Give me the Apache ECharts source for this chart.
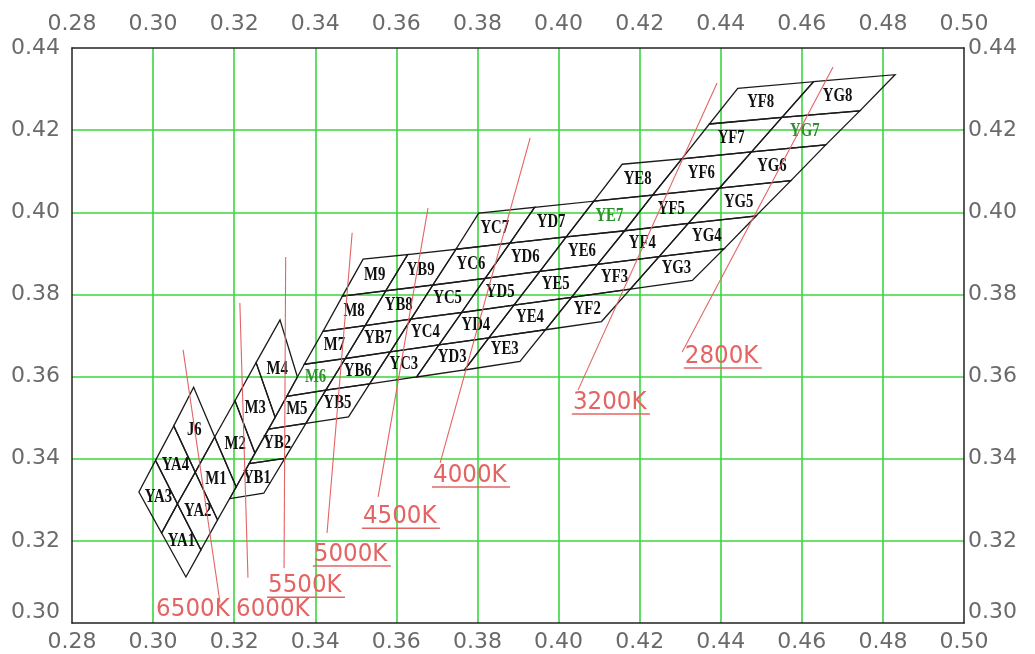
<!DOCTYPE html>
<html>
<head>
<meta charset="utf-8">
<style>
  html, body { margin: 0; padding: 0; background: #fff; }
  #chart { width: 1035px; height: 654px; }
</style>
<script src="https://cdn.jsdelivr.net/npm/echarts@6/dist/echarts.min.js"></script>
</head>
<body>
<div id="chart"></div>
<script>
// axis range (CIE 1931 x / y)
const xRange = [0.28, 0.50]
const yRange = [0.30, 0.44]
const tickStep = 0.02

// bin boundary lines, nodes listed bottom to top as [x, y]
const edgeLeft = [[0.2965, 0.3319], [0.3006, 0.3396], [0.3051, 0.3480], [0.3100, 0.3574]]
const edgeMid = [[0.3021, 0.3219], [0.3060, 0.3290], [0.3104, 0.3367], [0.3152, 0.3453], [0.3202, 0.3541], [0.3254, 0.3634], [0.3313, 0.3738]]
const edge0Low = [[0.3081, 0.3112], [0.3118, 0.3178], [0.3159, 0.3251], [0.3205, 0.3331], [0.3251, 0.3414], [0.3301, 0.3501], [0.3356, 0.3599]]
const edge0 = [[0.3189, 0.3303], [0.3237, 0.3388], [0.3285, 0.3472], [0.3330, 0.3552], [0.3373, 0.3630], [0.3419, 0.3710], [0.3467, 0.3796], [0.3518, 0.3886]]
const edge1 = [[0.3273, 0.3316], [0.3325, 0.3401], [0.3377, 0.3486], [0.3426, 0.3567], [0.3474, 0.3644], [0.3523, 0.3724], [0.3574, 0.3809], [0.3628, 0.3897]]
const edge2 = [[0.3482, 0.3502], [0.3534, 0.3582], [0.3585, 0.3660], [0.3636, 0.3740], [0.3690, 0.3823], [0.3747, 0.3910], [0.3803, 0.3998]]
const edge3 = [[0.3650, 0.3599], [0.3705, 0.3677], [0.3761, 0.3756], [0.3819, 0.3839], [0.3880, 0.3925], [0.3941, 0.4012]]
const edge4 = [[0.3768, 0.3616], [0.3828, 0.3694], [0.3890, 0.3774], [0.3954, 0.3856], [0.4019, 0.3940], [0.4087, 0.4027], [0.4157, 0.4117]]
const edge5 = [[0.3905, 0.3637], [0.3968, 0.3714], [0.4032, 0.3793], [0.4096, 0.3873], [0.4163, 0.3955], [0.4232, 0.4042], [0.4304, 0.4130], [0.4372, 0.4215], [0.4442, 0.4302]]
const edge6 = [[0.4106, 0.3734], [0.4177, 0.3813], [0.4248, 0.3892], [0.4320, 0.3973], [0.4397, 0.4059], [0.4476, 0.4147], [0.4551, 0.4231], [0.4629, 0.4318]]
const edge7 = [[0.4330, 0.3834], [0.4408, 0.3911], [0.4487, 0.3991], [0.4573, 0.4077], [0.4659, 0.4164], [0.4743, 0.4247], [0.4830, 0.4335]]

// bin codes per column, bottom to top
const binsYA = ['YA3', 'YA4', 'J6']
const binsM = ['YA1', 'YA2', 'M1', 'M2', 'M3', 'M4']
const binsYB1 = ['YB1', 'YB2', 'M5', 'M6', 'M7', 'M8', 'M9']
const binsYB = ['YB5', 'YB6', 'YB7', 'YB8', 'YB9']
const binsYC = ['YC3', 'YC4', 'YC5', 'YC6', 'YC7']
const binsYD = ['YD3', 'YD4', 'YD5', 'YD6', 'YD7']
const binsYE = ['YE3', 'YE4', 'YE5', 'YE6', 'YE7', 'YE8']
const binsYF = ['YF2', 'YF3', 'YF4', 'YF5', 'YF6', 'YF7', 'YF8']
const binsYG = ['YG3', 'YG4', 'YG5', 'YG6', 'YG7', 'YG8']

// isotherm lines: name, upper end, lower end, label anchor (left end of underline)
const cctNames = ['6500K', '6000K', '5500K', '5000K', '4500K', '4000K', '3200K', '2800K']
const cctTop = [[0.3074, 0.3665], [0.3214, 0.3779], [0.3327, 0.3891], [0.3491, 0.3950], [0.3678, 0.4010], [0.3930, 0.4181], [0.4391, 0.4315], [0.4677, 0.4354]]
const cctBottom = [[0.3165, 0.3050], [0.3234, 0.3110], [0.3323, 0.3134], [0.3429, 0.3219], [0.3555, 0.3307], [0.3708, 0.3390], [0.4048, 0.3567], [0.4305, 0.3660]]
const cctLabelAt = [[0.3005, 0.3005], [0.3202, 0.3005], [0.3281, 0.3063], [0.3394, 0.3139], [0.3515, 0.3231], [0.3688, 0.3331], [0.4033, 0.3509], [0.4309, 0.3621]]
const cctUnderlined = [false, false, true, true, true, true, true, true]

const columns = [
  { left: edgeLeft, l: 0, right: edgeMid, r: 0, names: binsYA },
  { left: edgeMid, l: 0, right: edge0Low, r: 0, names: binsM },
  { left: edge0, l: 0, right: edge1, r: 0, names: binsYB1 },
  { left: edge1, l: 2, right: edge2, r: 0, names: binsYB },
  { left: edge2, l: 1, right: edge3, r: 0, names: binsYC },
  { left: edge3, l: 0, right: edge4, r: 0, names: binsYD },
  { left: edge4, l: 0, right: edge5, r: 0, names: binsYE },
  { left: edge5, l: 1, right: edge6, r: 0, names: binsYF },
  { left: edge6, l: 1, right: edge7, r: 0, names: binsYG },
]

const cells = []
columns.forEach(c => {
  c.names.forEach((name, i) => {
    const a = c.left[c.l + i]
    const b = c.right[c.r + i]
    const d = c.right[c.r + i + 1]
    const e = c.left[c.l + i + 1]
    cells.push({ name, value: [a[0], a[1], b[0], b[1], d[0], d[1], e[0], e[1]] })
  })
})

const isotherms = cctNames.map((name, i) => ({
  name,
  value: [cctTop[i][0], cctTop[i][1], cctBottom[i][0], cctBottom[i][1], cctLabelAt[i][0], cctLabelAt[i][1]],
}))

const greenish = ['M6', 'YE7', 'YG7']
const red = '#e46464'

const axisText = { color: '#6a6a6a', fontSize: 22, fontFamily: 'DejaVu Sans' }
const frame = { show: true, lineStyle: { color: '#222', width: 1.5 } }

const xAxisBase = {
  type: 'value',
  min: xRange[0],
  max: xRange[1],
  interval: tickStep,
  axisLine: frame,
  axisTick: { show: false },
}
const yAxisBase = {
  type: 'value',
  min: yRange[0],
  max: yRange[1],
  interval: tickStep,
  axisLine: frame,
  axisTick: { show: false },
}
const grid = { show: true, lineStyle: { color: '#3ad63a', width: 1.6 }, showMinLine: false, showMaxLine: false }

const chart = echarts.init(document.getElementById('chart'))
chart.setOption({
  backgroundColor: '#fff',
  animation: false,
  grid: { left: 72, right: 71, top: 48, bottom: 31 },
  xAxis: [
    { ...xAxisBase, position: 'bottom', splitLine: grid,
      axisLabel: { ...axisText, margin: 8, formatter: v => v.toFixed(2) } },
    { ...xAxisBase, position: 'top', splitLine: { show: false },
      axisLabel: { ...axisText, margin: 13, formatter: v => v.toFixed(2) } },
  ],
  yAxis: [
    { ...yAxisBase, position: 'left', splitLine: grid,
      axisLabel: { ...axisText, margin: 12, verticalAlignMinLabel: 'bottom', formatter: v => v.toFixed(2) } },
    { ...yAxisBase, position: 'right', splitLine: { show: false },
      axisLabel: { ...axisText, margin: 4, verticalAlignMinLabel: 'bottom', formatter: v => v.toFixed(2) } },
  ],
  series: [
    {
      type: 'custom',
      name: 'bins',
      xAxisIndex: 0,
      yAxisIndex: 0,
      data: cells,
      z: 3,
      renderItem: (params, api) => {
        const pts = [0, 1, 2, 3].map(k => api.coord([api.value(2 * k), api.value(2 * k + 1)]))
        const cx = (pts[0][0] + pts[1][0] + pts[2][0] + pts[3][0]) / 4
        const cy = (pts[0][1] + pts[1][1] + pts[2][1] + pts[3][1]) / 4
        const name = cells[params.dataIndex].name
        return {
          type: 'group',
          children: [
            { type: 'polygon', shape: { points: pts }, style: { fill: 'none', stroke: '#1a1a1a', lineWidth: 1.3 } },
            {
              type: 'text', x: cx, y: cy, scaleX: 0.82,
              style: {
                text: name, fill: greenish.includes(name) ? '#2f8f2f' : '#111',
                font: 'bold 18px "Liberation Serif"', align: 'center', verticalAlign: 'middle',
              },
            },
          ],
        }
      },
    },
    {
      type: 'custom',
      name: 'cct',
      xAxisIndex: 0,
      yAxisIndex: 0,
      data: isotherms,
      z: 4,
      renderItem: (params, api) => {
        const p1 = api.coord([api.value(0), api.value(1)])
        const p2 = api.coord([api.value(2), api.value(3)])
        const lab = api.coord([api.value(4), api.value(5)])
        const i = params.dataIndex
        const children = [
          { type: 'line', shape: { x1: p1[0], y1: p1[1], x2: p2[0], y2: p2[1] }, style: { stroke: red, lineWidth: 1.1 } },
          {
            type: 'text', x: lab[0] + 1, y: lab[1] + 1, scaleY: 1.08,
            style: { text: cctNames[i], fill: red, font: '23px "DejaVu Sans"', align: 'left', verticalAlign: 'bottom' },
          },
        ]
        if (cctUnderlined[i]) {
          children.push({ type: 'line', shape: { x1: lab[0], y1: lab[1], x2: lab[0] + 78, y2: lab[1] }, style: { stroke: red, lineWidth: 1.5 } })
        }
        return { type: 'group', children }
      },
    },
  ],
})
window.addEventListener('resize', () => chart.resize())
</script>
</body>
</html>
